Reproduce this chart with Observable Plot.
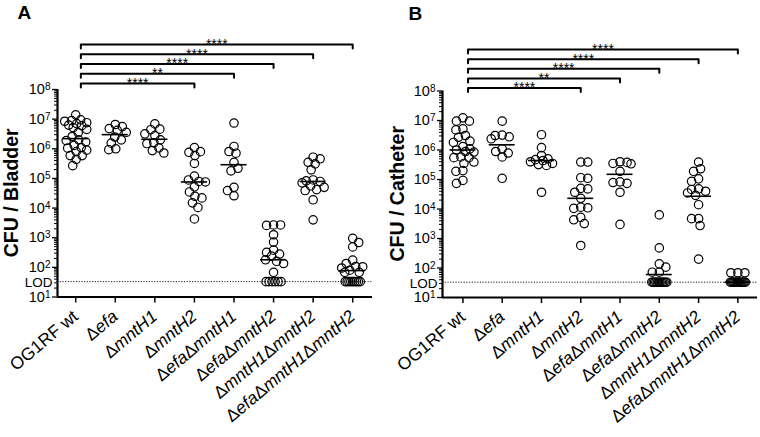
<!DOCTYPE html>
<html><head><meta charset="utf-8">
<script src="https://cdn.jsdelivr.net/npm/d3@7"></script>
<script src="https://cdn.jsdelivr.net/npm/@observablehq/plot@0.6"></script>
<style>
body{margin:0;background:#fff;}
#wrap{display:flex;width:760px;height:437px;overflow:hidden;}
#wrap svg{font-family:"Liberation Sans",Arial,Helvetica,sans-serif;flex:none;}
#wrap svg text{font-family:"Liberation Sans",Arial,Helvetica,sans-serif;}
</style></head><body><div id="wrap"></div>
<script>
// ---------- data ----------
const categories = ["OG1RF wt","Δefa","ΔmntH1","ΔmntH2","ΔefaΔmntH1","ΔefaΔmntH2","ΔmntH1ΔmntH2","ΔefaΔmntH1ΔmntH2"];
const LOD = 33;

// CFU per bladder (values above the limit of detection)
const bladderWT = [1.4e7,9.5e6,8.9e6,8.5e6,7.6e6,7.1e6,6.3e6,6.0e6,5.2e6,4.5e6,3.5e6,2.6e6,2.0e6,1.9e6,1.7e6,1.3e6,1.1e6,1.05e6,9e5,8e5,5.9e5,5.9e5,4.4e5,2.7e5];
const bladderEfa = [6.6e6,5.6e6,4.8e6,4.2e6,3.6e6,2.5e6,2.0e6,1.55e6,1.0e6,9.3e5];
const bladderMntH1 = [6.9e6,4.6e6,4.4e6,3.2e6,2.8e6,2.0e6,1.6e6,1.5e6,1.07e6,8.7e5,7.2e5];
const bladderMntH2 = [1.1e6,8e5,7.6e5,5.9e5,3.2e5,1.2e5,8.9e4,7.9e4,7.6e4,5.2e4,3.5e4,2.5e4,2.2e4,1.5e4,1.05e4,4.3e3];
const bladderEfaMntH1 = [7.4e6,1.2e6,8.1e5,7.1e5,3.5e5,2.2e5,1.8e5,5e4,3.9e4,2.6e4];
const bladderEfaMntH2 = [2700,2700,2600,1260,710,380,320,280,240,180,160,135,68];
const bladderMntH1MntH2 = [5.2e5,4.6e5,3.5e5,3.1e5,1.95e5,8.9e4,8.3e4,7.9e4,7.1e4,5.6e4,5e4,4.2e4,3.9e4,1.9e4,4e3];
const bladderTriple = [950,690,490,175,135,107,105,95,80,68,68];
const bladderLodCounts = [0,0,0,0,0,6,0,9];
const bladderMedians = [2.2e6,3.0e6,2.1e6,7.6e4,2.9e5,180,7.9e4,78];

// CFU per catheter
const catheterWT = [1.23e7,9.5e6,9.5e6,5.2e6,4.8e6,3.1e6,2.7e6,2.0e6,1.8e6,1.3e6,1.1e6,1.0e6,8.9e5,8.5e5,5.8e5,5.5e5,5.5e5,3.9e5,3.5e5,2.0e5,1.9e5,9.3e4,7.4e4];
const catheterEfa = [9.5e6,3.2e6,3.1e6,2.8e6,2.4e6,1.1e6,8.9e5,7.9e5,5.8e5,1.1e5];
const catheterMntH1 = [3.3e6,1.2e6,6.5e5,5e5,4.7e5,4.4e5,4e5,3.5e5,3.2e5,3e5,3.7e4];
const catheterMntH2 = [3.9e5,3.9e5,1.15e5,1.1e5,5e4,4.8e4,3.7e4,2.3e4,1.15e4,1.1e4,1.05e4,5.2e3,4.3e3,3.2e3,580];
const catheterEfaMntH1 = [4e5,3.8e5,3.5e5,3.4e5,1.9e5,8.3e4,7.9e4,7.4e4,3.7e4,3e3];
const catheterEfaMntH2 = [6300,480,138,107,72,72];
const catheterMntH1MntH2 = [3.9e5,2.3e5,1.9e5,1.05e5,8.7e4,4.8e4,4.6e4,4e4,3.5e4,2.9e4,1.4e4,4.7e3,4.7e3,2.75e3,200];
const catheterTriple = [69,69,69];
const catheterLodCounts = [0,0,0,0,0,12,0,14];
const catheterMedians = [1.0e6,1.5e6,4.4e5,2.3e4,1.5e5,60,2.7e4,33];

// significance comparisons (all vs OG1RF wt), bottom to top
const comparisonTargets = ["ΔmntH2","ΔefaΔmntH1","ΔefaΔmntH2","ΔmntH1ΔmntH2","ΔefaΔmntH1ΔmntH2"];
const bladderStars = ["****","**","****","****","****"];
const catheterStars = ["****","**","****","****","****"];

const yTickExponents = [1,2,3,4,5,6,7,8];

// ---------- drawing ----------
const NS = "http://www.w3.org/2000/svg";
const FONT = '"Liberation Sans",Arial,Helvetica,sans-serif';

function swarm(vals, nLod, decPx, unitPx, idx) {
  const minD = 7.0, maxOff = 11;
  const placed = [];
  const out = [];
  const minDist = (c, py) => placed.length ? Math.min(...placed.map(p => Math.hypot(p.px - c, p.py - py))) : Infinity;
  const sorted = [...vals].sort((a, b) => b - a);
  sorted.forEach((v, n) => {
    const py = Math.log10(v) * decPx;
    let best = null, bestScore = -1;
    outer:
    for (let k = 0; k <= maxOff * 2; k++) {
      const s = k * 0.5;
      const cands = k === 0 ? [0] : (n % 2 ? [s, -s] : [-s, s]);
      for (const c of cands) {
        const d = minDist(c, py);
        if (d >= minD) { best = c; break outer; }
        if (d > bestScore) { bestScore = d; best = c; }
      }
    }
    if (best === null) best = 0;
    placed.push({px: best, py});
    out.push({x: idx + best / unitPx, y: v});
  });
  const span = Math.min((nLod - 1) * 3, 15);
  for (let j = 0; j < nLod; j++) {
    const off = nLod > 1 ? -span / 2 + span * j / (nLod - 1) : 0;
    out.push({x: idx + off / unitPx, y: LOD});
  }
  return out;
}

function makePanel(cfg) {
  const W = 380, H = 437;
  const {ml, mr, mt, mb, xDomain} = cfg;
  const unitPx = (W - ml - mr) / (xDomain[1] - xDomain[0]);
  const decPx = (H - mt - mb) / 7;
  const dots = cfg.groups.flatMap((vals, i) => swarm(vals, cfg.lodCounts[i], decPx, unitPx, i));
  const meds = cfg.medians.map((m, i) => ({x1: i - 0.33, x2: i + 0.33, y: m}));
  const left = 0.13;
  const bracketPts = [], starPts = [];
  comparisonTargets.forEach((name, k) => {
    const t = categories.indexOf(name);
    const off = cfg.bBase + cfg.bStep * k;
    const up = 10 ** (8 + off / decPx), down = 10 ** (8 + (off - 4) / decPx);
    bracketPts.push({k, x: left, y: down}, {k, x: left, y: up}, {k, x: t, y: up}, {k, x: t, y: down});
    starPts.push({x: (left + t) / 2, y: up, s: cfg.stars[k]});
  });
  const majors = yTickExponents.map(e => 10 ** e);
  const minors = yTickExponents.slice(0, -1).flatMap(e => d3.range(2, 10).map(m => m * 10 ** e));

  const svg = Plot.plot({
    width: W, height: H,
    marginLeft: ml, marginRight: mr, marginTop: mt, marginBottom: mb,
    style: {fontFamily: FONT, color: "#000", background: "#fff"},
    x: {type: "linear", domain: xDomain},
    y: {type: "log", domain: [10, 1e8]},
    marks: [
      Plot.ruleY([LOD], {stroke: "#000", strokeWidth: 0.9, strokeDasharray: "1.2,1.5"}),
      Plot.axisY({ticks: minors, tickSize: 3, tickFormat: () => "", label: null, strokeWidth: 1}),
      Plot.axisY({ticks: majors, tickSize: 5, tickPadding: 2, fontSize: 14.5, label: null, strokeWidth: 1.3,
        tickFormat: v => "10^" + Math.round(Math.log10(v))}),
      Plot.text([LOD], {y: d => d, frameAnchor: "left", text: () => "LOD", textAnchor: "end", dx: -5, dy: 1,
        fontSize: 13.5, fontFamily: FONT, fill: "#000"}),
      Plot.ruleX([xDomain[0]], {y1: 10, y2: 1e8, strokeWidth: 2.2}),
      Plot.ruleY([10], {x1: xDomain[0], x2: xDomain[1], strokeWidth: 2.2}),
      Plot.axisX({ticks: d3.range(categories.length), tickFormat: i => categories[i], tickRotate: -40,
        tickSize: 6, tickPadding: 11, fontSize: 17.5, label: null, strokeWidth: 1.5}),
      Plot.dot(dots, {x: "x", y: "y", r: 4.2, stroke: "#000", strokeWidth: 1.2, fill: "none"}),
      Plot.ruleY(meds, {x1: "x1", x2: "x2", y: "y", stroke: "#000", strokeWidth: 1.6}),
      Plot.line(bracketPts, {x: "x", y: "y", z: "k", stroke: "#000", strokeWidth: 2}),
      Plot.text(starPts, {x: "x", y: "y", text: "s", fontSize: 14, lineAnchor: "middle", fontFamily: FONT, fill: "#000"}),
      Plot.text([cfg.letter], {frameAnchor: "top-left", textAnchor: "start", lineAnchor: "top", dx: cfg.letterDx, dy: cfg.letterDy,
        fontSize: 19, fontWeight: "bold", fontFamily: FONT, fill: "#000"})
    ]
  });

  // y-axis title (rotated)
  const title = document.createElementNS(NS, "text");
  title.setAttribute("transform", `translate(${cfg.titleX},${(mt + H - mb) / 2}) rotate(-90)`);
  title.setAttribute("text-anchor", "middle");
  title.setAttribute("dy", "0.35em");
  title.setAttribute("font-size", "19.5");
  title.setAttribute("font-weight", "bold");
  title.setAttribute("font-family", FONT);
  title.setAttribute("fill", "#000");
  title.textContent = cfg.title;
  svg.appendChild(title);

  svg.querySelectorAll('g[aria-label="y-axis tick label"] text').forEach(t => {
    const m = /^10\^(\d+)$/.exec(t.textContent);
    if (!m) return;
    t.textContent = "";
    const a = document.createElementNS(NS, "tspan"); a.textContent = "10"; t.appendChild(a);
    const b = document.createElementNS(NS, "tspan"); b.textContent = m[1];
    b.setAttribute("dy", "-0.4em"); b.setAttribute("font-size", "10"); t.appendChild(b);
  });
  svg.querySelectorAll('g[aria-label="x-axis tick label"] text').forEach(t => {
    const s = t.textContent;
    if (!s.includes("Δ")) return;
    t.textContent = "";
    s.split(/(Δ)/).filter(Boolean).forEach(part => {
      const ts = document.createElementNS(NS, "tspan");
      ts.textContent = part;
      if (part !== "Δ") ts.setAttribute("font-style", "italic");
      t.appendChild(ts);
    });
  });
  return svg;
}

const wrap = document.getElementById("wrap");
wrap.appendChild(makePanel({
  letter: "A", title: "CFU / Bladder",
  groups: [bladderWT, bladderEfa, bladderMntH1, bladderMntH2, bladderEfaMntH1, bladderEfaMntH2, bladderMntH1MntH2, bladderTriple],
  lodCounts: bladderLodCounts, medians: bladderMedians, stars: bladderStars,
  ml: 57, mr: 8, mt: 89, mb: 140.5, xDomain: [-0.46, 7.5],
  bBase: 6, bStep: 9.75, titleX: 11, letterDx: -40, letterDy: -84
}));
wrap.appendChild(makePanel({
  letter: "B", title: "CFU / Catheter",
  groups: [catheterWT, catheterEfa, catheterMntH1, catheterMntH2, catheterEfaMntH1, catheterEfaMntH2, catheterMntH1MntH2, catheterTriple],
  lodCounts: catheterLodCounts, medians: catheterMedians, stars: catheterStars,
  ml: 62, mr: 3, mt: 90.5, mb: 140, xDomain: [-0.52, 7.5],
  bBase: 3, bStep: 9.6, titleX: 17, letterDx: -34, letterDy: -85
}));
</script></body></html>
